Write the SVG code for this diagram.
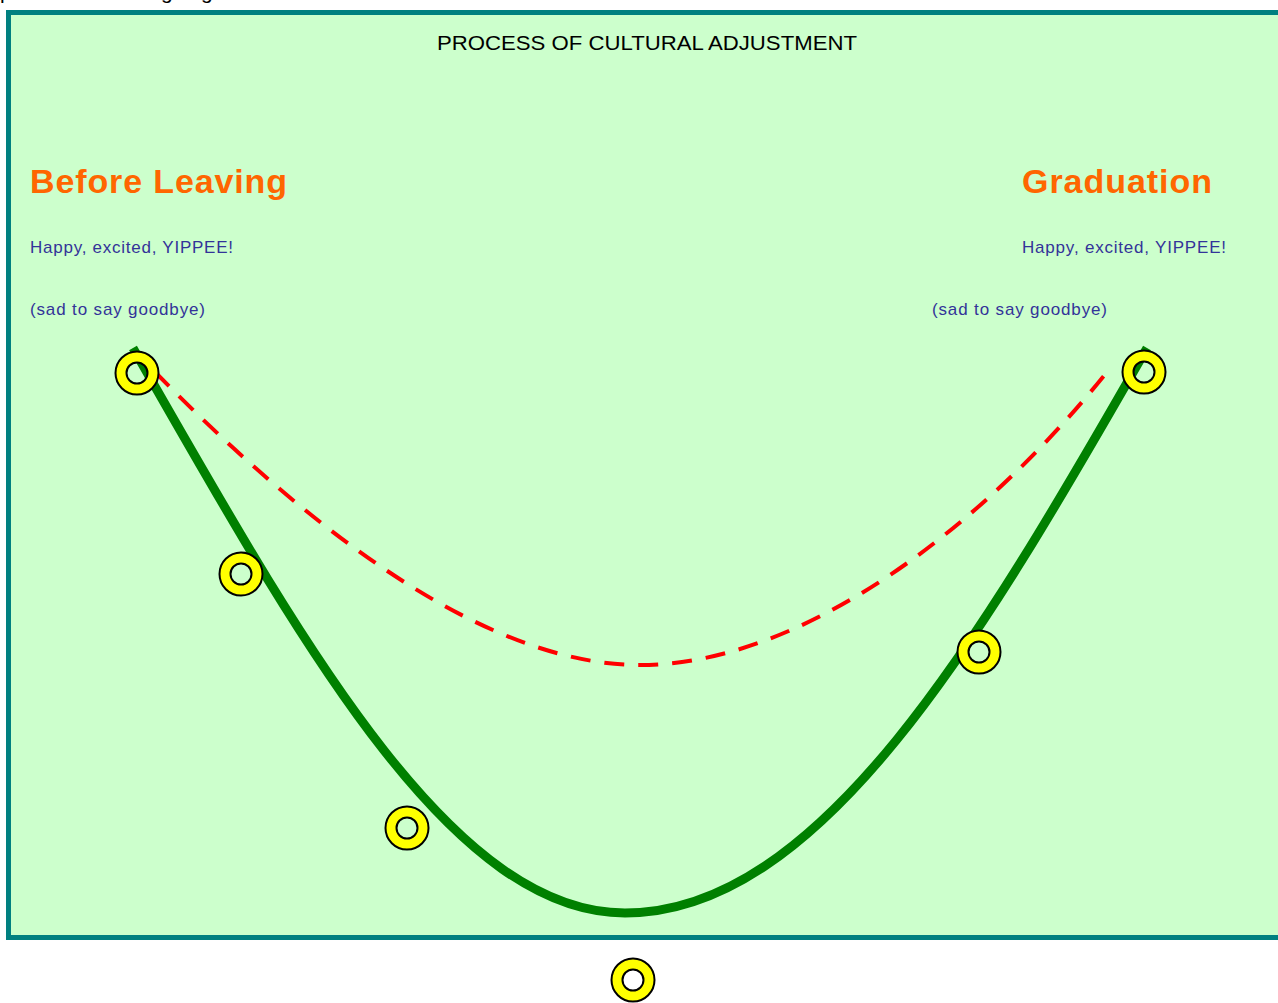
<svg xmlns="http://www.w3.org/2000/svg" width="1278" height="1003" viewBox="0 0 1278 1003">
<style>
.title{font-family:"Liberation Sans",Arial,sans-serif;font-size:21px;fill:#000}
.head{font-family:"Liberation Sans",Arial,sans-serif;font-size:34px;font-weight:bold;fill:#FF6600}
.sub{font-family:"Liberation Sans",Arial,sans-serif;font-size:17px;fill:#333399}
.ring{fill:#FFFF00;fill-rule:evenodd;stroke:#000;stroke-width:2}
</style>
<rect width="1278" height="1003" fill="#FFFFFF"/>
<text class="title" y="-1"><tspan x="0">p</tspan><tspan x="161">g</tspan><tspan x="201">g</tspan></text>
<rect x="8.5" y="12.5" width="1290" height="925" fill="#CCFFCC" stroke="#008080" stroke-width="5"/>
<text class="title" x="437" y="50" textLength="420" lengthAdjust="spacingAndGlyphs">PROCESS OF CULTURAL ADJUSTMENT</text>
<g id="before-leaving">
<text class="head" x="30" y="193" textLength="257">Before Leaving</text>
<text class="sub" x="30" y="253" textLength="203">Happy, excited, YIPPEE!</text>
<text class="sub" x="30" y="315" textLength="175">(sad to say goodbye)</text>
</g>
<g id="graduation">
<text class="head" x="1022" y="193" textLength="190">Graduation</text>
<text class="sub" x="1022" y="253" textLength="204">Happy, excited, YIPPEE!</text>
<text class="sub" x="932" y="315" textLength="175">(sad to say goodbye)</text>
</g>
<g id="connectors">
<path d="M133 348 C300 640 450 913 625 913 C820 913 980 640 1147 348" fill="none" stroke="#008000" stroke-width="9"/>
<path d="M155 372 C300 520 480 665 640 665 C800 665 980 530 1107 372" fill="none" stroke="#FF0000" stroke-width="4" stroke-dasharray="20 14"/>
</g>
<defs>
<path id="donut" d="M-21.5 0 A21.5 21.5 0 1 0 21.5 0 A21.5 21.5 0 1 0 -21.5 0 Z M-10.5 0 A10.5 10.5 0 1 0 10.5 0 A10.5 10.5 0 1 0 -10.5 0 Z"/>
</defs>
<g id="point1"><use href="#donut" class="ring" x="137" y="373"/></g>
<g id="point2"><use href="#donut" class="ring" x="241" y="574"/></g>
<g id="point3"><use href="#donut" class="ring" x="407" y="828"/></g>
<g id="point4"><use href="#donut" class="ring" x="633" y="980"/></g>
<g id="point5"><use href="#donut" class="ring" x="979" y="652"/></g>
<g id="point6"><use href="#donut" class="ring" x="1144" y="372"/></g>
</svg>
